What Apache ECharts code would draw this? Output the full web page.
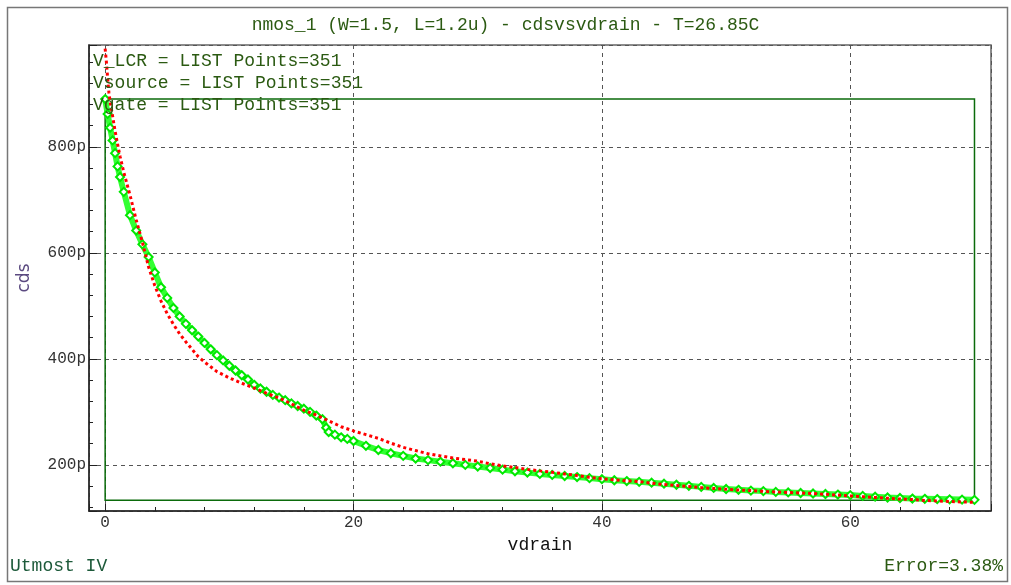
<!DOCTYPE html>
<html>
<head>
<meta charset="utf-8">
<script src="https://cdn.jsdelivr.net/npm/echarts@6/dist/echarts.min.js"></script>
<style>html,body{margin:0;padding:0;background:#fff}#c{width:1011px;height:585px}</style>
</head>
<body>
<div id="c"></div>
<script>
// ---- data ----
const chartTitle = 'nmos_1 (W=1.5, L=1.2u) - cdsvsvdrain - T=26.85C';
const infoLines = ['V_LCR = LIST Points=351', 'Vsource = LIST Points=351', 'Vgate = LIST Points=351'];
const footLeft = 'Utmost IV';
const footRight = 'Error=3.38%';
const xName = 'vdrain';
const yName = 'cds';

// measured (green)
const measX = [0,0.2,0.4,0.6,0.8,1.0,1.2,1.5,2.0,2.5,3.0,3.5,4.0,4.5,5.0,5.5,6.0,6.5,7.0,7.5,8.0,8.5,9.0,9.5,10,10.5,11,11.5,12,12.5,13,13.5,14,14.5,15,15.5,16,16.5,17,17.5,17.8,18,18.5,19,19.5,20,21,22,23,24,25,26,27,28,29,30,31,32,33,34,35,36,37,38,39,40,41,42,43,44,45,46,47,48,49,50,51,52,53,54,55,56,57,58,59,60,61,62,63,64,65,66,67,68,69,70];
const measY = [890,862,836,812,788,763,743,715,671,642,616,592,563,535,515,496,480,466,454,442,430,418,407,397,387,378,369,361,351,344,338,332,327,322,316,311,306,300,293,286,270,262,257,252,249,245,236,228,222,217,212,209,206,203,200,197,194,191,188,185.5,183,181,179,177,175,173,171,169.5,168,166.5,164.5,162.5,160.5,158.5,156.5,154.5,153,151.5,150.5,149,148,147,146,145,144,143,141.5,140,138.5,137.5,136.5,136,135.5,135,134.5,134];

// simulated (red)
const simX = [0,0.1,0.2,0.3,0.4,0.6,0.8,1.0,1.2,1.5,2.0,2.5,3.0,3.5,4.0,4.5,5.0,5.5,6.0,6.5,7.0,7.5,8.0,8.5,9.0,10,11,12,13,14,15,16,17,18,19,20,21,22,23,24,25,26,27,28,29,30,31,32,33,34,35,36,37,38,39,40,41,42,43,44,45,46,47,48,49,50,51,52,53,54,55,56,57,58,59,60,61,62,63,64,65,66,67,68,69,70];
const simY = [985,960,930,903,885,858,830,805,782,752,709,662,620,573,538,509,485,465,447,432,418,404,394,385,376,364,354,345,335,326,315,303,294,283,272,264,257,250,241,233,227,221,217,213,210,207,202,198,195,191.5,188.7,186,183,180,176.5,174,172,170,168.5,165.5,163,161,159,157,155.5,154,152.5,151.5,150,149,148,147,146,144.5,143,141.5,140,138.5,137,135.5,134.5,133,132,131,130,129.5];

// data-range box (green rectangle)
const boxX = [0, 70];
const boxY = [133.4, 890];

// axis ranges & ticks
const xRange = [-1.3, 71.33];
const yRange = [113, 992];
const xMajor = 20, yMajor = 200;

// ---- chart ----
const mono = 'Liberation Mono';
const textGreen = '#2b5a12';
const chart = echarts.init(document.getElementById('c'), null, {renderer: 'canvas'});

const pairs = (xs, ys) => xs.map((x, i) => [x, ys[i]]);

chart.setOption({
  animation: false,
  backgroundColor: '#ffffff',
  title: {
    text: chartTitle, left: 'center', top: 11,
    textStyle: {fontFamily: mono, fontSize: 18, fontWeight: 'normal', color: textGreen}
  },
  grid: {left: 89, right: 20, top: 45, bottom: 74, show: true, borderColor: '#666', borderWidth: 1.5, backgroundColor: 'transparent'},
  xAxis: {
    type: 'value', min: xRange[0], max: xRange[1], minInterval: xMajor, maxInterval: xMajor,
    name: xName, nameLocation: 'middle', nameGap: 24,
    nameTextStyle: {fontFamily: mono, fontSize: 18, color: '#111'},
    axisLine: {show: true, onZero: false, lineStyle: {color: '#222', width: 1.5}},
    axisTick: {show: true, inside: true, length: 7, lineStyle: {color: '#222', width: 1}},
    minorTick: {show: true, splitNumber: 5, length: 4, lineStyle: {color: '#222', width: 1}},
    axisLabel: {fontFamily: mono, fontSize: 16, color: '#333', margin: 4,
      formatter: v => (Math.abs(v % xMajor) < 1e-6 ? String(v) : '')},
    splitLine: {show: true, lineStyle: {color: '#555', type: [4, 4], width: 1}}
  },
  yAxis: {
    type: 'value', min: yRange[0], max: yRange[1], minInterval: yMajor, maxInterval: yMajor,
    name: yName, nameLocation: 'middle', nameGap: 56, nameRotate: 90,
    nameTextStyle: {fontFamily: 'DejaVu Sans', fontSize: 17, color: '#5b4a80'},
    axisLine: {show: true, onZero: false, lineStyle: {color: '#222', width: 1.5}},
    axisTick: {show: true, inside: true, length: 8, lineStyle: {color: '#222', width: 1}},
    minorTick: {show: true, splitNumber: 5, length: 4, lineStyle: {color: '#222', width: 1}},
    axisLabel: {fontFamily: mono, fontSize: 16, color: '#333', margin: 3,
      formatter: v => (Math.abs(v % yMajor) < 1e-6 ? v + 'p' : '')},
    splitLine: {show: true, lineStyle: {color: '#555', type: [4, 4], width: 1}}
  },
  series: [
    {
      name: 'measured', type: 'line', data: pairs(measX, measY), z: 3,
      symbol: 'emptyDiamond', symbolSize: 8, showSymbol: true,
      itemStyle: {color: '#00e800', borderWidth: 1.5},
      lineStyle: {color: '#33ff33', width: 6},
      markArea: {
        silent: true,
        itemStyle: {color: 'rgba(0,0,0,0)', borderColor: '#0b6b0b', borderWidth: 1.5},
        data: [[{xAxis: boxX[0], yAxis: boxY[1]}, {xAxis: boxX[1], yAxis: boxY[0]}]]
      }
    },
    {
      name: 'simulated', type: 'line', data: pairs(simX, simY), z: 4,
      symbol: 'none',
      lineStyle: {color: '#ff0000', width: 3, type: [3, 3]}
    }
  ],
  graphic: [
    {type: 'rect', shape: {x: 7.5, y: 7.5, width: 1000, height: 574}, style: {fill: null, stroke: '#777', lineWidth: 1.5}, silent: true, z: 0},
    {type: 'text', x: 93, y: 61, style: {text: infoLines[0], font: '18px "Liberation Mono"', fill: textGreen, verticalAlign: 'middle'}, z: 10},
    {type: 'text', x: 93, y: 83, style: {text: infoLines[1], font: '18px "Liberation Mono"', fill: textGreen, verticalAlign: 'middle'}, z: 10},
    {type: 'text', x: 93, y: 105, style: {text: infoLines[2], font: '18px "Liberation Mono"', fill: textGreen, verticalAlign: 'middle'}, z: 10},
    {type: 'text', x: 10, y: 566, style: {text: footLeft, font: '18px "Liberation Mono"', fill: '#1d5a3a', verticalAlign: 'middle'}, z: 10},
    {type: 'text', x: 1003, y: 566, style: {text: footRight, font: '18px "Liberation Mono"', fill: textGreen, verticalAlign: 'middle', align: 'right'}, z: 10}
  ]
});
</script>
</body>
</html>
